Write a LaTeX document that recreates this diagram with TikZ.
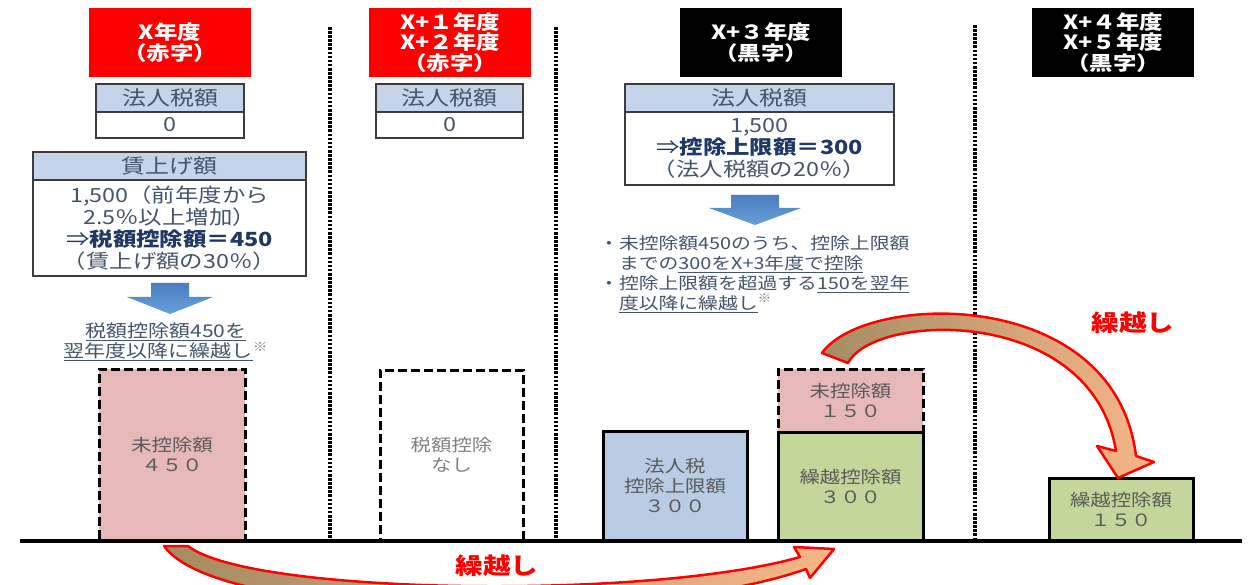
\documentclass[tikz,border=0pt]{standalone}
\usepackage{fontspec}
\setmainfont{Noto Sans CJK JP}[FakeStretch=1.2]
\definecolor{tblhead}{RGB}{197,212,234}
\definecolor{tbltext}{RGB}{68,84,106}
\definecolor{navy}{RGB}{31,56,100}
\definecolor{tblborder}{RGB}{60,60,60}
\definecolor{pinkfill}{RGB}{230,184,183}
\definecolor{bluefill}{RGB}{184,204,228}
\definecolor{greenfill}{RGB}{196,215,155}
\definecolor{bartext}{RGB}{89,89,89}
\definecolor{lighttext}{RGB}{127,127,127}
\definecolor{arrowblueA}{RGB}{74,126,192}
\definecolor{arrowblueB}{RGB}{104,160,218}
\definecolor{arrowdark}{RGB}{165,140,98}
\definecolor{arrowlight}{RGB}{246,182,136}
\begin{document}
\begin{tikzpicture}[x=1pt,y=-1pt,
  hdr/.style={text=white,font=\fontsize{19.5}{20.5}\selectfont\bfseries,align=center,minimum width=162pt,minimum height=69pt,inner sep=0pt},
  tabhead/.style={draw=tblborder,line width=2pt,fill=tblhead,text=tbltext,font=\fontsize{20}{22}\selectfont,inner sep=0pt},
  tabbody/.style={draw=tblborder,line width=2pt,fill=white,text=tbltext,font=\fontsize{19.5}{22}\selectfont,align=center,inner sep=0pt},
  barbox/.style={line width=3pt,inner sep=0pt,align=center,text=bartext,font=\fontsize{17}{20}\selectfont},
  dashedbar/.style={barbox,draw=black,dash pattern=on 9pt off 4pt},
  solidbar/.style={barbox,draw=black},
  sepline/.style={line width=3.4pt,dash pattern=on 2.6pt off 1.5pt},
  bigarrow/.style={draw=red,line width=2.5pt,line join=round},
  carrylabel/.style={text=red,font=\fontsize{23}{26}\selectfont\bfseries},
  notetext/.style={text=tbltext,font=\fontsize{16.5}{20}\selectfont,inner sep=0pt}
]
\fill[white] (0,0) rectangle (1256,585);
\useasboundingbox (0,0) rectangle (1256,585);

% separators
\coordinate (d1t) at (330,27); \coordinate (d1b) at (330,540);
\coordinate (d2t) at (556,27); \coordinate (d2b) at (556,540);
\coordinate (d3t) at (975,25); \coordinate (d3b) at (975,540);
\draw[sepline] (d1t) -- (d1b);
\draw[sepline] (d2t) -- (d2b);
\draw[sepline] (d3t) -- (d3b);

% headers
\node[hdr,fill=red] (h1) at (170,42.5) {X年度\\（赤字）};
\node[hdr,fill=red] (h2) at (450,42.5) {X+１年度\\X+２年度\\（赤字）};
\node[hdr,fill=black] (h3) at (761,42.5) {X+３年度\\（黒字）};
\node[hdr,fill=black] (h4) at (1113,42.5) {X+４年度\\X+５年度\\（黒字）};

% tables
\node[tabhead,minimum width=148pt,minimum height=28pt] (t1h) at (170,98) {法人税額};
\node[tabbody,minimum width=148pt,minimum height=26pt] (t1v) at (170,125) {0};
\node[tabhead,minimum width=273pt,minimum height=28pt] (t2h) at (169.5,166) {賃上げ額};
\node[tabbody,minimum width=273pt,minimum height=96pt] (t2b) at (169.5,228)
  {1,500（前年度から\\2.5％以上増加）\\{\color{navy}⇒\textbf{税額控除額＝450}}\\（賃上げ額の30％）};
\node[tabhead,minimum width=147pt,minimum height=28pt] (t3h) at (449.5,98) {法人税額};
\node[tabbody,minimum width=147pt,minimum height=26pt] (t3v) at (449.5,125) {0};
\node[tabhead,minimum width=269pt,minimum height=28pt] (t4h) at (759.5,98) {法人税額};
\node[tabbody,minimum width=269pt,minimum height=73pt] (t4b) at (759.5,148.5)
  {1,500\\{\color{navy}⇒\textbf{控除上限額＝300}}\\（法人税額の20％）};

% blue down arrows
\shade[top color=arrowblueA,bottom color=arrowblueB]
  (151,283) -- (189,283) -- (189,297) -- (213,297) -- (170,314) -- (127,297) -- (151,297) -- cycle;
\shade[top color=arrowblueA,bottom color=arrowblueB]
  (731,195) -- (779,195) -- (779,208) -- (801,208) -- (755,225) -- (709,208) -- (731,208) -- cycle;

% notes
\node[notetext,font=\fontsize{17.5}{20}\selectfont,align=center] (n1) at (166,342)
  {\underline{税額控除額450を}\\\underline{翌年度以降に繰越し}\textsuperscript{\color{lighttext}※}};
\node[notetext,align=left,anchor=west] (n2) at (599,274)
  {・未控除額450のうち、控除上限額\\
   \phantom{・}までの\underline{300をX+3年度で控除}\\
   ・控除上限額を超過する\underline{150を翌年}\\
   \phantom{・}\underline{度以降に繰越し}\textsuperscript{\color{lighttext}※}};

% bars
\node[dashedbar,fill=pinkfill,minimum width=146pt,minimum height=171pt] (b1) at (172,454.5) {未控除額\\４５０};
\node[dashedbar,fill=white,text=lighttext,minimum width=143pt,minimum height=170pt] (b2) at (451.5,455) {税額控除\\なし};
\node[solidbar,fill=bluefill,minimum width=144pt,minimum height=109pt] (b3) at (675,485.5) {法人税\\控除上限額\\３００};
\node[dashedbar,fill=pinkfill,minimum width=145pt,minimum height=63pt] (b4) at (850.5,400.5) {未控除額\\１５０};
\node[solidbar,fill=greenfill,minimum width=145pt,minimum height=108pt] (b5) at (850.5,486) {繰越控除額\\３００};
\node[solidbar,fill=greenfill,minimum width=144pt,minimum height=62pt] (b6) at (1121,509) {繰越控除額\\１５０};

% baseline
\coordinate (bl) at (20,541); \coordinate (br) at (1242,541);
\draw[line width=4pt] (bl) -- (br);

% curved carry-over arrows
\path[bigarrow,left color=arrowdark,right color=arrowlight]
  (188,546) .. controls (250,595) and (650,600) .. (800,557)
  -- (794,547) -- (834,549) -- (810,578) -- (806,569)
  .. controls (650,625) and (220,625) .. (164,546) -- cycle;
\path[bigarrow,left color=arrowdark,right color=arrowlight]
  (822,353) .. controls (865,292) and (1115,285) .. (1136,456)
  -- (1154,462) -- (1118,478) -- (1097,446) -- (1116,451)
  .. controls (1092,305) and (874,312) .. (848,363) -- cycle;

% labels
\node[carrylabel] (c1) at (1133,323) {繰越し};
\node[carrylabel] (c2) at (497,566) {繰越し};
\end{tikzpicture}
\end{document}
